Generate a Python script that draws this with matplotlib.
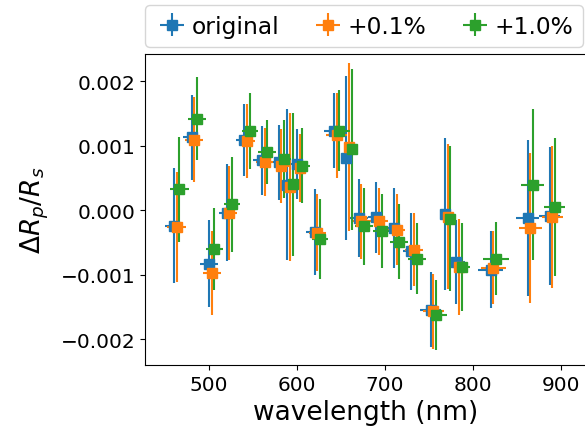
import matplotlib
matplotlib.use("Agg")
import matplotlib.pyplot as plt
import numpy as np

# Wavelength bin centres (nm) for the "original" series
wavelength = [460, 480, 500, 520, 540, 560, 579, 589, 600, 620, 642, 656,
              670, 690, 710, 730, 752, 768, 781, 820, 862, 887]
# Half bin widths (nm)
bin_halfwidth = [10.5, 10, 10, 9, 9, 10, 8.5, 3, 9, 9.5, 12, 3,
                 10, 10, 10, 10, 12, 3, 10, 14.5, 13, 12]

# Delta Rp/Rs values (x 1e-3)
original = [-0.24, 1.13, -0.83, -0.04, 1.09, 0.77, 0.74, 0.39, 0.72, -0.34, 1.23, 0.81,
            -0.12, -0.11, -0.28, -0.64, -1.54, -0.06, -0.80, -0.92, -0.12, -0.09]
plus01 = [-0.26, 1.09, -0.97, -0.04, 1.07, 0.75, 0.68, 0.36, 0.65, -0.35, 1.16, 0.98,
          -0.17, -0.17, -0.30, -0.61, -1.57, -0.10, -0.88, -0.89, -0.28, -0.10]
plus10 = [0.32, 1.42, -0.60, 0.09, 1.22, 0.90, 0.79, 0.40, 0.69, -0.45, 1.23, 0.94,
          -0.25, -0.32, -0.49, -0.75, -1.63, -0.13, -0.88, -0.75, 0.39, 0.05]

# Errors (x 1e-3)
original_err = [0.89, 0.66, 0.67, 0.75, 0.56, 0.53, 0.58, 1.17, 0.54, 0.67, 0.58, 1.27,
                0.60, 0.55, 0.62, 0.59, 0.58, 1.18, 0.65, 0.60, 1.21, 1.07]
plus01_err = [0.85, 0.66, 0.65, 0.73, 0.57, 0.53, 0.57, 1.15, 0.53, 0.60, 0.66, 1.30,
              0.58, 0.52, 0.55, 0.57, 0.58, 1.12, 0.74, 0.56, 1.16, 1.10]
plus10_err = [0.81, 0.65, 0.63, 0.74, 0.59, 0.49, 0.60, 1.11, 0.58, 0.62, 0.63, 1.25,
              0.60, 0.57, 0.58, 0.55, 0.54, 1.13, 0.68, 0.57, 1.17, 1.07]

labels = ["original", "+0.1%", "+1.0%"]
series = [original, plus01, plus10]
errors = [original_err, plus01_err, plus10_err]
offsets = [0, 3, 6]

fig = plt.figure(figsize=(5.85, 4.35), dpi=100)
ax = fig.add_axes([145 / 585, 1 - 366 / 435, (586.5 - 145) / 585, (366 - 55) / 435])

wl = np.array(wavelength, dtype=float)
xe = np.array(bin_halfwidth, dtype=float)
for lab, vals, errs, off in zip(labels, series, errors, offsets):
    ax.errorbar(wl + off, np.array(vals) * 1e-3, yerr=np.array(errs) * 1e-3,
                xerr=xe, fmt='s', ms=7, label=lab)

ax.set_xlim(427, 929)
ax.set_ylim(-0.0024, 0.00242)
ax.set_xticks([500, 600, 700, 800, 900])
ax.set_yticks([-0.002, -0.001, 0.0, 0.001, 0.002])
ax.tick_params(labelsize=14.5)
ax.set_xlabel("wavelength (nm)", fontsize=19)
ax.set_ylabel(r"$\Delta R_p/R_s$", fontsize=19, labelpad=7)

ax.legend(loc='lower left', bbox_to_anchor=(0, 1.0225, 0.992, 0.1), mode='expand',
          ncol=3, borderaxespad=0, fontsize=16.8, handlelength=1.5, handletextpad=0.1)

fig.savefig("out.png", dpi=100)
